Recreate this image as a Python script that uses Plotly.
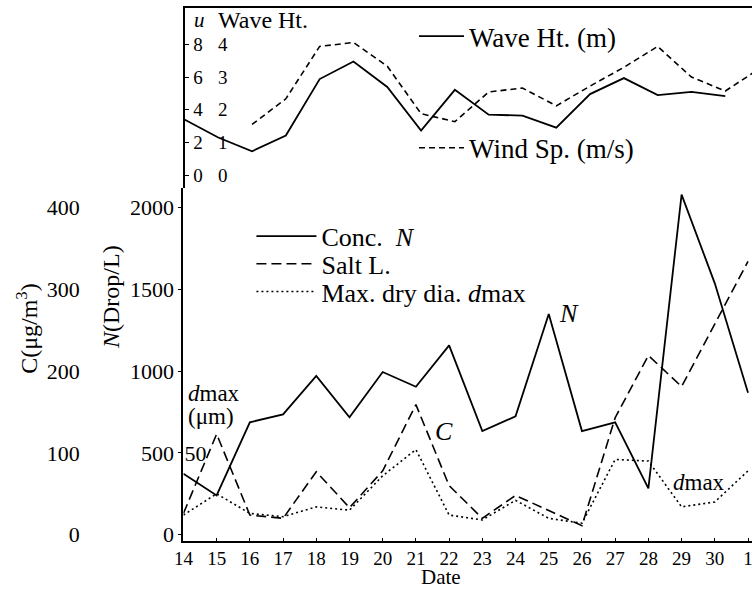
import plotly.graph_objects as go

# ---------------- data ----------------
dates = ["14", "15", "16", "17", "18", "19", "20", "21", "22", "23",
         "24", "25", "26", "27", "28", "29", "30", "1"]
day_index = list(range(len(dates)))

wave_ht = [1.70, 1.15, 0.73, 1.21, 2.94, 3.48, 2.70, 1.36, 2.61, 1.85,
           1.82, 1.45, 2.48, 2.97, 2.45, 2.55, 2.42, None]          # m
wind_sp = [None, None, 3.1, 4.67, 7.88, 8.12, 6.67, 3.76, 3.27, 5.09,
           5.33, 4.24, 5.45, 6.6, 7.88, 6.0, 5.15, 6.5]            # m/s
conc_n = [373, 240, 687, 735, 970, 717, 994, 904, 1157, 633,
          723, 1349, 633, 687, 283, 2078, 1536, 867]               # Drop/L
salt_c = [26, 123, 24, 20, 77, 33, 78, 159, 60, 20,
          48, 29, 11, 143, 219, 181, 258, 334]                     # ug/m3
dmax_um = [12, 25, 13, 11, 17, 15, 36, 52, 12, 9,
           21, 10, 7, 46, 45, 17, 20, 39]                          # um

n_ticks = [0, 500, 1000, 1500, 2000]
c_ticks = [0, 100, 200, 300, 400]
u_ticks = [0, 2, 4, 6, 8]
h_ticks = [0, 1, 2, 3, 4]
d_ticks = [50]

# ---------------- layout helpers ----------------
W, H = 753, 597
SERIF = "Liberation Serif, Times New Roman, serif"


def px(x):
    return x / W


def py(y):
    return 1 - y / H


fig = go.Figure()

# upper panel
fig.add_trace(go.Scatter(x=day_index, y=wave_ht, name="Wave Ht. (m)", mode="lines",
                         line=dict(color="black", width=1.8), xaxis="x2", yaxis="y4",
                         legend="legend", showlegend=True))
fig.add_trace(go.Scatter(x=day_index, y=wind_sp, name="Wind Sp. (m/s)", mode="lines",
                         line=dict(color="black", width=1.6, dash="6px,4px"),
                         xaxis="x2", yaxis="y3", legend="legend2", showlegend=True))
# lower panel
fig.add_trace(go.Scatter(x=day_index, y=conc_n, name="Conc.\u00a0 <i>N</i>", mode="lines",
                         line=dict(color="black", width=1.8), xaxis="x", yaxis="y",
                         legend="legend3", showlegend=True))
fig.add_trace(go.Scatter(x=day_index, y=salt_c, name="Salt L.", mode="lines",
                         line=dict(color="black", width=1.6, dash="10px,5px"),
                         xaxis="x", yaxis="y2", legend="legend4", showlegend=True))
fig.add_trace(go.Scatter(x=day_index, y=dmax_um, name="Max. dry dia. <i>d</i>max", mode="lines",
                         line=dict(color="black", width=1.6, dash="2px,3px"),
                         xaxis="x", yaxis="y5", legend="legend5", showlegend=True))

# ranges (lower panel: N axis 0 at y=541px, 0.166 px per Drop/L)
n_lo, n_hi = -36, 2120
h_lo, h_hi = -0.39, 5.12

low_dom = [py(547), py(190)]
top_dom = [py(190), py(8)]
x_dom = [px(176), 1.0]

tickfont = dict(family=SERIF, size=22, color="black")
topfont = dict(family=SERIF, size=19, color="black")

fig.update_layout(
    width=W, height=H,
    margin=dict(l=0, r=0, t=0, b=0),
    paper_bgcolor="white", plot_bgcolor="white",
    font=dict(family=SERIF, color="black"),
    showlegend=True,
    xaxis=dict(domain=x_dom, anchor="y", range=[0, 17.12],
               tickmode="array", tickvals=day_index, ticktext=dates,
               showline=True, linecolor="black", linewidth=2,
               ticks="inside", ticklen=3, tickcolor="black",
               ticklabelstandoff=0, ticklabeloverflow="allow",
               showgrid=False, zeroline=False,
               tickfont=dict(family=SERIF, size=19, color="black")),
    yaxis=dict(domain=low_dom, anchor="x", range=[n_lo, n_hi],
               tickmode="array", tickvals=n_ticks,
               showline=True, linecolor="black", linewidth=2,
               ticks="outside", ticklen=3, tickcolor="black",
               showgrid=False, zeroline=False, tickfont=tickfont),
    yaxis2=dict(overlaying="y", anchor="free", position=0.094, side="left",
                range=[n_lo / 5, n_hi / 5], tickmode="array", tickvals=c_ticks,
                showline=False, ticks="", showgrid=False, zeroline=False,
                tickfont=tickfont),
    yaxis5=dict(overlaying="y", anchor="free", position=px(176), side="right",
                range=[n_lo / 10, n_hi / 10], tickmode="array", tickvals=d_ticks,
                showline=False, ticks="",
                showgrid=False, zeroline=False, tickfont=tickfont),
    xaxis2=dict(domain=x_dom, anchor="y3", side="top", range=[-0.03, 16.79],
                showline=True, linecolor="black", linewidth=2,
                showticklabels=False, ticks="", showgrid=False, zeroline=False),
    yaxis3=dict(domain=top_dom, anchor="free", position=px(177), side="right",
                range=[2 * h_lo, 2 * h_hi],
                tickmode="array", tickvals=u_ticks,
                showline=True, linecolor="black", linewidth=2,
                ticks="outside", ticklen=4, tickcolor="black",
                showgrid=False, zeroline=False, tickfont=topfont),
    yaxis4=dict(overlaying="y3", anchor="free", position=px(210), side="right",
                range=[h_lo, h_hi], tickmode="array", tickvals=h_ticks,
                showline=False, ticks="",
                showgrid=False, zeroline=False, tickfont=topfont),
)

leg_common = dict(xanchor="left", yanchor="middle", bgcolor="rgba(0,0,0,0)",
                  borderwidth=0, tracegroupgap=0, visible=True)
fig.update_layout(
    legend=dict(x=px(410), y=py(37), itemwidth=45,
                font=dict(family=SERIF, size=27, color="black"), **leg_common),
    legend2=dict(x=px(410), y=py(150), itemwidth=45,
                 font=dict(family=SERIF, size=27, color="black"), **leg_common),
    legend3=dict(x=px(245), y=py(239), itemwidth=60,
                 font=dict(family=SERIF, size=26, color="black"), **leg_common),
    legend4=dict(x=px(245), y=py(267), itemwidth=60,
                 font=dict(family=SERIF, size=26, color="black"), **leg_common),
    legend5=dict(x=px(245), y=py(295), itemwidth=60,
                 font=dict(family=SERIF, size=26, color="black"), **leg_common),
)

annos = [
    dict(x=px(186), y=py(20), text="<i>u</i>", size=21, xanchor="left", yanchor="middle"),
    dict(x=px(210), y=py(20), text="Wave Ht.", size=24, xanchor="left", yanchor="middle"),
    dict(x=px(180), y=py(398), text="<i>d</i>max", size=23, xanchor="left", yanchor="middle"),
    dict(x=px(180), y=py(421), text="(μm)", size=23, xanchor="left", yanchor="middle"),
    dict(x=px(440), y=py(437), text="<i>C</i>", size=26, xanchor="center", yanchor="middle"),
    dict(x=px(567), y=py(317), text="<i>N</i>", size=26, xanchor="center", yanchor="middle"),
    dict(x=px(672), y=py(488), text="<i>d</i>max", size=23, xanchor="left", yanchor="middle"),
    dict(x=px(437), y=0.0, text="Date", size=21, xanchor="center", yanchor="bottom"),
]
for a in annos:
    fig.add_annotation(x=a["x"], y=a["y"], xref="paper", yref="paper",
                       text=a["text"], showarrow=False, xanchor=a["xanchor"],
                       yanchor=a["yanchor"], borderpad=0,
                       font=dict(family=SERIF, size=a["size"], color="black"))

fig.add_annotation(x=px(17), y=py(332), xref="paper", yref="paper",
                   text="C(μg/m<sup>3</sup>)", textangle=-90, showarrow=False,
                   xanchor="center", yanchor="middle",
                   font=dict(family=SERIF, size=24, color="black"))
fig.add_annotation(x=px(103), y=py(300), xref="paper", yref="paper",
                   text="<i>N</i>(Drop/L)", textangle=-90, showarrow=False,
                   xanchor="center", yanchor="middle",
                   font=dict(family=SERIF, size=24, color="black"))

fig.write_html("out.html")
